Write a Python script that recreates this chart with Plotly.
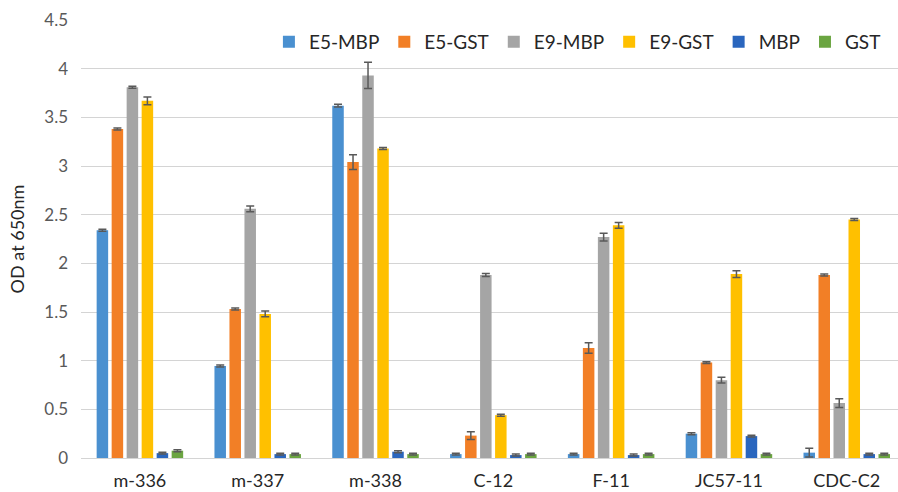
import plotly.graph_objects as go

categories = ["m-336", "m-337", "m-338", "C-12", "F-11", "JC57-11", "CDC-C2"]
series_names = ["E5-MBP", "E5-GST", "E9-MBP", "E9-GST", "MBP", "GST"]

e5_mbp = [2.34, 0.945, 3.62, 0.04, 0.04, 0.25, 0.055]
e5_gst = [3.38, 1.53, 3.04, 0.23, 1.13, 0.98, 1.88]
e9_mbp = [3.81, 2.56, 3.93, 1.88, 2.27, 0.80, 0.565]
e9_gst = [3.67, 1.48, 3.18, 0.44, 2.39, 1.89, 2.45]
mbp = [0.05, 0.04, 0.065, 0.03, 0.03, 0.225, 0.04]
gst = [0.075, 0.04, 0.04, 0.04, 0.04, 0.04, 0.04]

e5_mbp_err = [0.01, 0.01, 0.015, 0.01, 0.01, 0.01, 0.045]
e5_gst_err = [0.01, 0.01, 0.075, 0.04, 0.055, 0.01, 0.01]
e9_mbp_err = [0.01, 0.03, 0.135, 0.015, 0.04, 0.03, 0.045]
e9_gst_err = [0.04, 0.03, 0.01, 0.01, 0.03, 0.035, 0.01]
mbp_err = [0.01, 0.01, 0.01, 0.01, 0.01, 0.01, 0.01]
gst_err = [0.01, 0.01, 0.01, 0.01, 0.01, 0.01, 0.01]

colors = ["#4A90D0", "#F27F26", "#A5A5A5", "#FFC000", "#2A66BE", "#6BA541"]

values = [e5_mbp, e5_gst, e9_mbp, e9_gst, mbp, gst]
errors = [e5_mbp_err, e5_gst_err, e9_mbp_err, e9_gst_err, mbp_err, gst_err]

FONT = "Lato, 'Open Sans', sans-serif"

fig = go.Figure()
for name, vals, errs, col in zip(series_names, values, errors, colors):
    fig.add_trace(go.Bar(
        name=name, x=categories, y=vals,
        marker=dict(color=col, line=dict(width=0)),
        error_y=dict(type="data", array=errs, visible=True,
                     color="#595959", thickness=1.5, width=4),
    ))

fig.update_layout(
    width=898, height=492,
    margin=dict(l=81, r=0, t=20, b=34),
    paper_bgcolor="white", plot_bgcolor="white",
    barmode="group", bargap=0.236, bargroupgap=0.233,
    font=dict(family=FONT, color="#262626", size=15),
    legend=dict(orientation="h", x=0.23, y=0.95, xanchor="left", yanchor="middle",
                font=dict(size=19, color="#262626"), bgcolor="rgba(0,0,0,0)",
                itemwidth=30, traceorder="normal"),
    showlegend=True,
)
fig.update_xaxes(
    type="category", range=[-0.5, 6.435], automargin=False,
    showline=True, linecolor="#D4D4D4", linewidth=1,
    showgrid=False, ticks="", tickfont=dict(size=18, color="#262626"),
    ticklabelstandoff=6,
)
fig.update_yaxes(
    range=[0, 4.5], dtick=0.5, tick0=0, automargin=False,
    showgrid=True, gridcolor="#D4D4D4", gridwidth=1,
    zeroline=False, showline=False, ticks="",
    tickfont=dict(size=17, color="#595959"), ticklabelstandoff=12,
    title=dict(text="OD at 650nm", font=dict(size=18, color="#262626"), standoff=14),
)

fig.write_html(
    "out.html",
    config={"displayModeBar": False},
    post_script="document.body.style.margin='0';document.body.style.overflow='hidden';",
)
